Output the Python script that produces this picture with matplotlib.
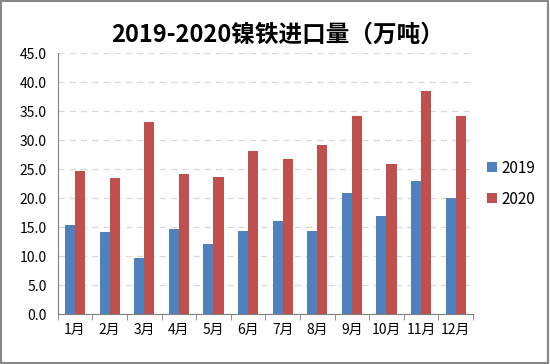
import matplotlib
matplotlib.use("Agg")
import matplotlib.pyplot as plt
import numpy as np
from matplotlib.patches import Rectangle

plt.rcParams['font.family'] = ['Noto Sans CJK SC', 'DejaVu Sans']

months = ["1月", "2月", "3月", "4月", "5月", "6月", "7月", "8月", "9月", "10月", "11月", "12月"]
imports_2019 = [15.4, 14.2, 9.7, 14.6, 12.1, 14.3, 16.1, 14.4, 20.8, 16.9, 22.9, 20.0]
imports_2020 = [24.6, 23.5, 33.2, 24.1, 23.7, 28.1, 26.7, 29.2, 34.1, 25.9, 38.5, 34.1]

fig = plt.figure(figsize=(5.5, 3.64), dpi=100)
ax = fig.add_axes([0.105, 0.137, 0.755, 0.717])

x = np.arange(len(months))
w = 0.29
ax.bar(x - w / 2, imports_2019, w, color="#4F81BD", label="2019", zorder=3)
ax.bar(x + w / 2, imports_2020, w, color="#C0504D", label="2020", zorder=3)

ax.set_xlim(-0.5, len(months) - 0.5)
ax.set_ylim(0, 45)
ax.set_yticks(np.arange(0, 45.1, 5))
ax.set_yticklabels([f"{v:.1f}" for v in np.arange(0, 45.1, 5)])
ax.set_xticks(x)
ax.set_xticklabels(months)
ax.set_xticks(np.arange(-0.5, len(months)), minor=True)
ax.tick_params(axis="x", which="major", length=0, labelsize=10, pad=6)
ax.tick_params(axis="x", which="minor", length=4, color="#808080", direction="out")
ax.tick_params(axis="y", length=0, labelsize=10, pad=8)

ax.grid(axis="y", linestyle=(0, (5, 4)), color="#D8D8D8", linewidth=0.9, zorder=0)
for s in ["top", "right"]:
    ax.spines[s].set_visible(False)
ax.spines["left"].set_color("#808080")
ax.spines["bottom"].set_color("#808080")

fig.text(0.505, 0.905, "2019-2020镍铁进口量（万吨）", ha="center", va="center",
         fontsize=17, fontweight="bold")

ax.legend(loc="center left", bbox_to_anchor=(1.0, 0.5), frameon=False,
          fontsize=11, handlelength=0.65, handleheight=0.65, handletextpad=0.3,
          labelspacing=0.9)

fig.patches.append(Rectangle((0.002, 0.003), 0.995, 0.994, transform=fig.transFigure,
                             fill=False, edgecolor="#888888", linewidth=1.5))

fig.savefig("out.png", dpi=100)
